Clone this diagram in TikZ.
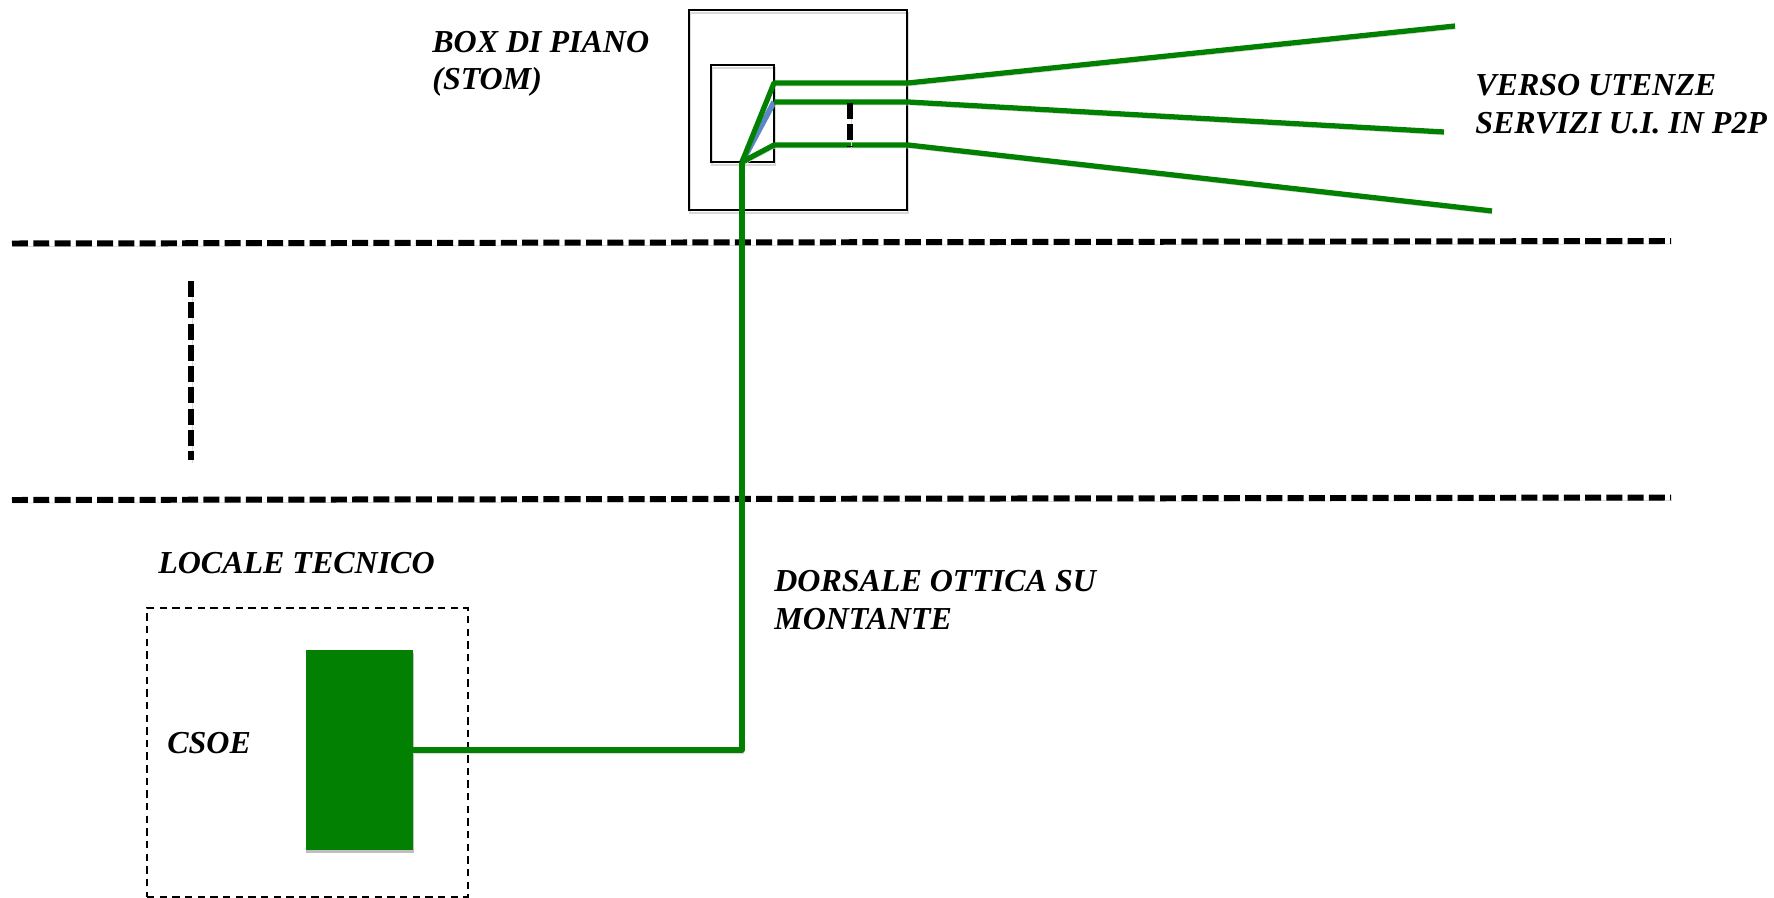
\documentclass[tikz,border=0pt]{standalone}
\usepackage{fontspec}
\setmainfont{Liberation Serif}
\definecolor{fibregreen}{HTML}{028002}
\definecolor{splitblue}{HTML}{5B88C4}
\begin{document}
\begin{tikzpicture}[
  x=0.02cm, y=-0.02cm,
  softshadow/.style={preaction={draw=black!15, transform canvas={xshift=0.5pt, yshift=-1.7pt}}},
  boxnode/.style={rectangle, draw, line width=1.1pt, inner sep=0pt, softshadow},
  localebox/.style={rectangle, draw, line width=0.9pt, dash pattern=on 4.2pt off 3pt, inner sep=0pt},
  csoebox/.style={rectangle, fill=fibregreen, inner sep=0pt,
    preaction={fill=black!25, transform canvas={xshift=0.5pt, yshift=-1.7pt}}},
  lab/.style={font=\fontsize{18.2}{21.4}\selectfont\bfseries\itshape, align=left, anchor=west, inner sep=0pt},
  fibre/.style={draw=fibregreen, line width=3pt, line join=round, softshadow},
  split/.style={draw=splitblue, line width=3.2pt},
  floorline/.style={line width=3.4pt, dash pattern=on 9.1pt off 3pt, softshadow},
  gapline/.style={line width=3pt, dash pattern=on 9.1pt off 3pt, softshadow},
]
\useasboundingbox (0,0) rectangle (1774,898);

% floors
\coordinate (f1a) at (12,243.5);
\coordinate (f1b) at (1671,241);
\coordinate (f2a) at (12,500);
\coordinate (f2b) at (1671,497.5);
\draw[floorline] (f1a) -- (f1b);
\draw[floorline] (f2a) -- (f2b);

\coordinate (o1a) at (191,281);
\coordinate (o1b) at (191,460);
\draw[gapline] (o1a) -- (o1b);

% box di piano
\node[boxnode, minimum width=4.36cm, minimum height=4.0cm] (stom) at (798,110) {};
\node[boxnode, minimum width=1.26cm, minimum height=1.94cm] (term) at (742.5,113.5) {};

% locale tecnico
\node[localebox, minimum width=6.42cm, minimum height=5.78cm] (locale) at (307.5,752.5) {};
\node[csoebox, minimum width=2.16cm, minimum height=4.0cm] (csoe) at (359.5,750) {};

% fibres
\coordinate (hub) at (742,162);
\coordinate (p1) at (774,83);
\coordinate (p2) at (774,102);
\coordinate (p3) at (774,145);
\coordinate (q1) at (908,83);
\coordinate (q2) at (908,102);
\coordinate (q3) at (908,145);
\coordinate (r1) at (1455,26);
\coordinate (r2) at (1444,132);
\coordinate (r3) at (1492,211);
\coordinate (bend) at (742,750);

\draw[split] (hub) -- (p2);
\draw[fibre] (hub) -- (p1) -- (q1) -- (r1);
\draw[fibre] (p2) -- (q2) -- (r2);
\draw[fibre] (hub) -- (p3) -- (q3) -- (r3);
\draw[fibre, shorten <=-1pt] (csoe.east) -- (bend) -- (hub);

\coordinate (o2a) at (850,103);
\coordinate (o2b) at (850,146);
\draw[gapline] (o2a) -- (o2b);

% labels
\node[lab] (boxlab) at (432,64) {BOX DI PIANO\\(STOM)};
\node[lab] (utenze) at (1475,104) {VERSO UTENZE\\SERVIZI U.I. IN P2P};
\node[lab] (tecnico) at (158,563) {LOCALE TECNICO};
\node[lab] (dorsale) at (774,600) {DORSALE OTTICA SU\\MONTANTE};
\node[lab] (csoelab) at (167,743) {CSOE};

\end{tikzpicture}
\end{document}
